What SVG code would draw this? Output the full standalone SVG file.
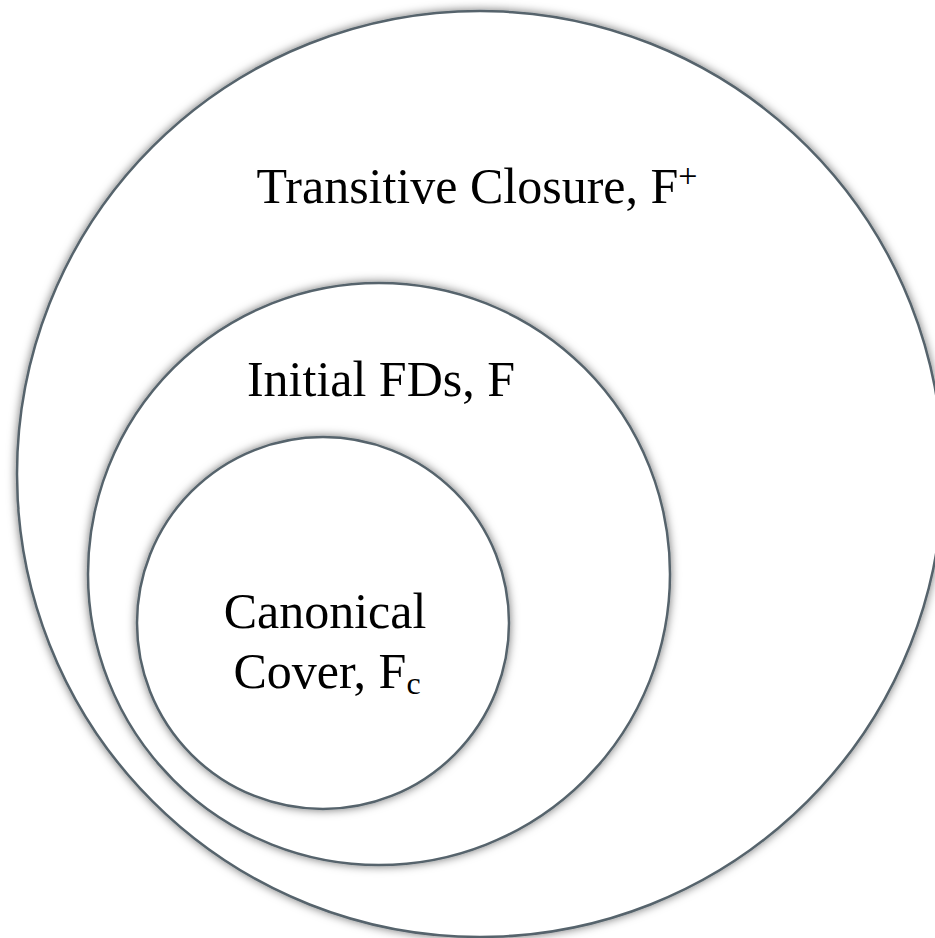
<svg xmlns="http://www.w3.org/2000/svg" width="935" height="938" viewBox="0 0 935 938">
<defs>
<filter id="glow" x="-10%" y="-10%" width="120%" height="120%">
<feDropShadow dx="0" dy="0" stdDeviation="5" flood-color="#000" flood-opacity="0.55"/>
</filter>
</defs>
<style>
.set{fill:#fff;stroke:#56646c;stroke-width:2.5;filter:url(#glow)}
.lbl{font-family:"Liberation Serif","Times New Roman",serif;font-size:50px;fill:#000;text-anchor:middle}
</style>
<rect width="935" height="938" fill="#fff"/>
<g id="closure">
<circle class="set" cx="480" cy="474" r="463"/>
<text class="lbl" x="477" y="203">Transitive Closure, F<tspan font-size="34" dy="-16">+</tspan></text>
</g>
<g id="initial">
<circle class="set" cx="379" cy="574" r="291"/>
<text class="lbl" x="381" y="396">Initial FDs, F</text>
</g>
<g id="canonical">
<circle class="set" cx="323" cy="623" r="186"/>
<text class="lbl" x="325" y="628">Canonical</text>
<text class="lbl" x="327" y="688">Cover, F<tspan font-size="32" dy="6">c</tspan></text>
</g>
<g id="connectors"></g>
</svg>
